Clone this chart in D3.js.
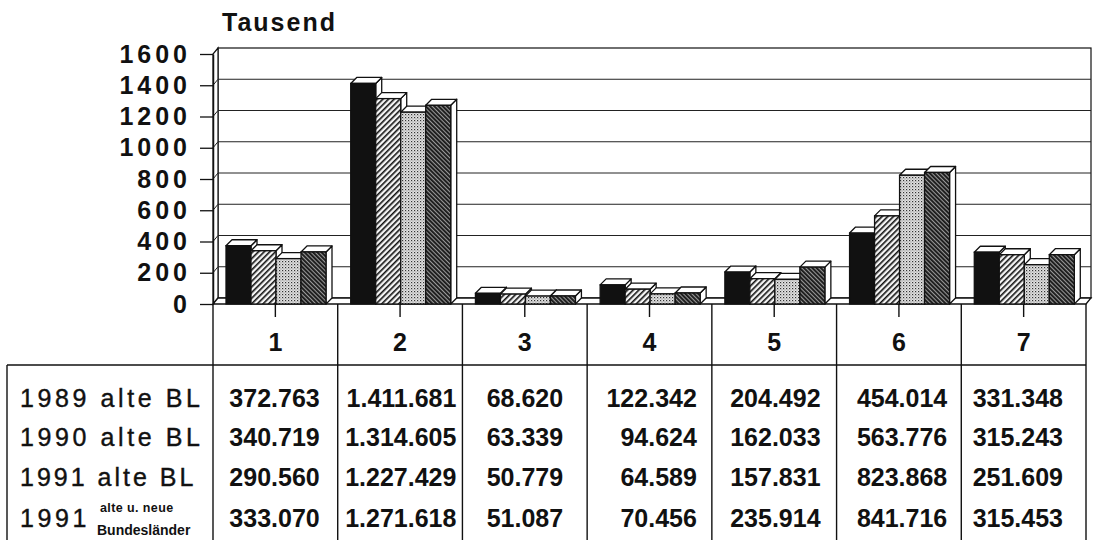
<!DOCTYPE html>
<html>
<head>
<meta charset="utf-8">
<style>
  body { margin: 0; background: white; }
  svg { display: block; font-family: 'Liberation Sans', Arial, sans-serif; }
</style>
</head>
<body>
<svg width="1093" height="540"></svg>
<script src="https://d3js.org/d3.v7.min.js"></script>
<script>
// data (Tausend)
const categories = ["1", "2", "3", "4", "5", "6", "7"];
const rowLabels = ["1989 alte BL", "1990 alte BL", "1991 alte BL", "1991"];
const v1989 = [372.763, 1411.681, 68.620, 122.342, 204.492, 454.014, 331.348];
const v1990 = [340.719, 1314.605, 63.339, 94.624, 162.033, 563.776, 315.243];
const v1991alt = [290.560, 1227.429, 50.779, 64.589, 157.831, 823.868, 251.609];
const v1991ges = [333.070, 1271.618, 51.087, 70.456, 235.914, 841.716, 315.453];
const yTicks = [0, 200, 400, 600, 800, 1000, 1200, 1400, 1600];

const series = [v1989, v1990, v1991alt, v1991ges];
const fills = ["#111", "url(#hatch)", "url(#dots)", "url(#darkhatch)"];

let svg = d3.select("svg");

// layout
let left = 213, right = 1086, floorY = 304, topY = 54;
let wall = {dx: 5, dy: -6};
let bar3d = {dx: 6, dy: -6};
// right edge inset of the numbers in each table column
let valueInset = [18, 6, 24, 15, 16, 14, 23];

let x = d3.scaleBand().domain(categories).range([left, right]);
let xInner = d3.scaleBand().domain(d3.range(series.length)).range([13, 113]);
let y = d3.scaleLinear().domain([0, 1600]).range([floorY, topY]);

// patterns
let defs = svg.append("defs");
let p1 = defs.append("pattern").attr("id", "hatch").attr("patternUnits", "userSpaceOnUse")
    .attr("width", 4).attr("height", 4).attr("patternTransform", "rotate(45)");
p1.append("rect").attr("width", 4).attr("height", 4).attr("fill", "#f4f4f4");
p1.append("rect").attr("width", 1.6).attr("height", 4).attr("fill", "#111");

let p2 = defs.append("pattern").attr("id", "dots").attr("patternUnits", "userSpaceOnUse")
    .attr("width", 3).attr("height", 3);
p2.append("rect").attr("width", 3).attr("height", 3).attr("fill", "#e2e2e2");
p2.append("rect").attr("x", 0).attr("y", 0).attr("width", 1.2).attr("height", 1.2).attr("fill", "#333");
p2.append("rect").attr("x", 1.5).attr("y", 1.5).attr("width", 1).attr("height", 1).attr("fill", "#777");

let p3 = defs.append("pattern").attr("id", "darkhatch").attr("patternUnits", "userSpaceOnUse")
    .attr("width", 3).attr("height", 3).attr("patternTransform", "rotate(-45)");
p3.append("rect").attr("width", 3).attr("height", 3).attr("fill", "#999");
p3.append("rect").attr("width", 1.9).attr("height", 3).attr("fill", "#1a1a1a");

// walls and floor
let chart = svg.append("g");
chart.append("rect")
    .attr("x", left + wall.dx).attr("y", topY + wall.dy)
    .attr("width", right - left).attr("height", floorY - topY)
    .attr("fill", "white").attr("stroke", "#111").attr("stroke-width", 1.2);

chart.append("polygon")
    .attr("points", [[left, floorY], [left, topY], [left + wall.dx, topY + wall.dy], [left + wall.dx, floorY + wall.dy]].join(" "))
    .attr("fill", "white").attr("stroke", "#111").attr("stroke-width", 1.2);

chart.selectAll(".grid")
    .data(yTicks.filter(d => d > 0 && d < 1600))
    .join("polyline")
    .attr("class", "grid")
    .attr("points", d => [[left, y(d)], [left + wall.dx, y(d) + wall.dy], [right + wall.dx, y(d) + wall.dy]].join(" "))
    .attr("fill", "none").attr("stroke", "#222").attr("stroke-width", 1);

chart.append("polygon")
    .attr("points", [[left, floorY], [right, floorY], [right + wall.dx, floorY + wall.dy], [left + wall.dx, floorY + wall.dy]].join(" "))
    .attr("fill", "white").attr("stroke", "#111").attr("stroke-width", 1.3);

// bars
let bars = [];
categories.forEach((c, i) => {
    series.forEach((s, j) => {
        bars.push({cat: c, s: j, value: s[i]});
    });
});

let barG = chart.selectAll(".bar")
    .data(bars)
    .join("g")
    .attr("class", "bar");

barG.each(function (d) {
    let g = d3.select(this);
    let bx = x(d.cat) + xInner(d.s);
    let bw = xInner.bandwidth();
    let ty = y(d.value);
    // side face
    g.append("polygon")
        .attr("points", [[bx + bw, floorY], [bx + bw, ty], [bx + bw + bar3d.dx, ty + bar3d.dy], [bx + bw + bar3d.dx, floorY + bar3d.dy]].join(" "))
        .attr("fill", "white").attr("stroke", "#111").attr("stroke-width", 1.3).attr("stroke-linejoin", "round");
    // top face
    g.append("polygon")
        .attr("points", [[bx, ty], [bx + bw, ty], [bx + bw + bar3d.dx, ty + bar3d.dy], [bx + bar3d.dx, ty + bar3d.dy]].join(" "))
        .attr("fill", "white").attr("stroke", "#111").attr("stroke-width", 1.3).attr("stroke-linejoin", "round");
    // front
    g.append("rect")
        .attr("x", bx).attr("y", ty)
        .attr("width", bw).attr("height", floorY - ty)
        .attr("fill", fills[d.s]).attr("stroke", "#111").attr("stroke-width", 1.3);
});

// y axis
let yAxis = d3.axisLeft(y).tickValues(yTicks).tickFormat(d3.format("d"))
    .tickSize(13).tickSizeOuter(0).tickPadding(9);
let yG = svg.append("g")
    .attr("transform", "translate(" + left + ",0)")
    .call(yAxis);
yG.select(".domain").attr("stroke", "#111").attr("stroke-width", 1.5);
yG.selectAll(".tick line").attr("stroke", "#111").attr("stroke-width", 1.3);
yG.selectAll(".tick text")
    .attr("fill", "#111")
    .style("font-size", "25px")
    .style("font-weight", "bold")
    .style("letter-spacing", "4px")
    .style("font-family", "'Liberation Sans', Arial, sans-serif");

svg.append("text")
    .attr("x", 222).attr("y", 31)
    .style("font-size", "25px").style("font-weight", "bold").style("letter-spacing", "2px")
    .attr("fill", "#111")
    .text("Tausend");

// table
let table = svg.append("g").attr("stroke", "#111").attr("stroke-width", 1.4);
let colEdges = categories.map(c => x(c)).concat([right]);
table.selectAll(".col")
    .data(colEdges)
    .join("line")
    .attr("x1", d => d).attr("x2", d => d)
    .attr("y1", floorY).attr("y2", 540);
table.selectAll(".ctick")
    .data(categories)
    .join("line")
    .attr("x1", d => x(d) + x.bandwidth() / 2).attr("x2", d => x(d) + x.bandwidth() / 2)
    .attr("y1", floorY).attr("y2", 317);
table.append("line").attr("x1", 7).attr("x2", right).attr("y1", 365).attr("y2", 365);
table.append("line").attr("x1", 7).attr("x2", 7).attr("y1", 365).attr("y2", 540);

svg.selectAll(".catlabel")
    .data(categories)
    .join("text")
    .attr("x", d => x(d) + x.bandwidth() / 2)
    .attr("y", 351)
    .attr("text-anchor", "middle")
    .style("font-size", "25px")
    .style("font-weight", "bold")
    .attr("fill", "#111")
    .text(d => d);

let rowY = [407, 446, 486, 527];

svg.selectAll(".rowlabel")
    .data(rowLabels)
    .join("text")
    .attr("x", 20)
    .attr("y", (d, i) => rowY[i])
    .style("font-size", "25px")
    .style("letter-spacing", (d, i) => i == 2 ? "3px" : "3.6px")
    .style("stroke", "#111").style("stroke-width", 0.4)
    .attr("fill", "#111")
    .text(d => d);

svg.append("text").attr("x", 100).attr("y", 512)
    .style("font-size", "12.5px").style("font-weight", "bold").style("letter-spacing", "0.4px").attr("fill", "#111")
    .text("alte u. neue");
svg.append("text").attr("x", 97).attr("y", 535)
    .style("font-size", "14px").style("font-weight", "bold").attr("fill", "#111")
    .text("Bundesländer");

let de = d3.formatLocale({decimal: ",", thousands: ".", grouping: [3], currency: ["", " €"]});
let fmt = de.format(",d");

series.forEach((s, j) => {
    svg.selectAll(".val" + j)
        .data(s)
        .join("text")
        .attr("x", (d, i) => x(categories[i]) + x.bandwidth() - valueInset[i])
        .attr("y", rowY[j])
        .attr("text-anchor", "end")
        .style("font-size", "25px")
        .style("font-weight", "bold")
        .attr("fill", "#111")
        .text(d => fmt(Math.round(d * 1000)));
});
</script>
</body>
</html>
